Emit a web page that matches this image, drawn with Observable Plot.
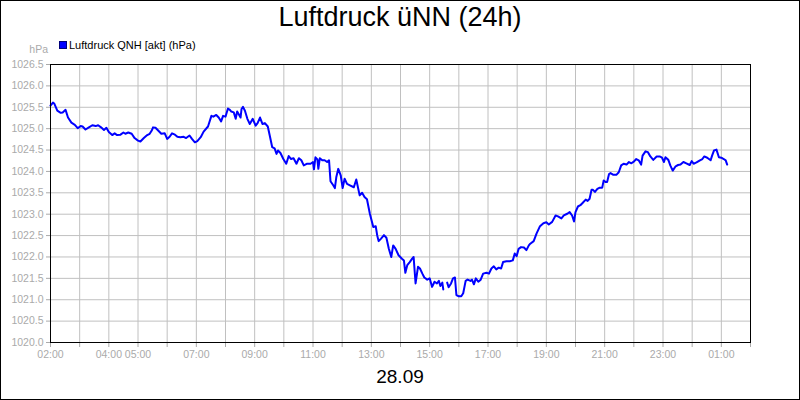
<!DOCTYPE html>
<html>
<head>
<meta charset="utf-8">
<script src="https://cdn.jsdelivr.net/npm/d3@7"></script>
<script src="https://cdn.jsdelivr.net/npm/@observablehq/plot@0.6"></script>
<style>
  html, body { margin: 0; padding: 0; background: #fff; }
  #wrap { position: relative; width: 800px; height: 400px; background: #fff; overflow: hidden;
          font-family: "Liberation Sans", Arial, sans-serif; }
  #border { position: absolute; left: 0; top: 0; width: 800px; height: 400px; box-sizing: border-box;
            border: 1px solid #000; pointer-events: none; z-index: 10; }
  #title { position: absolute; left: 0; width: 800px; top: 4px; text-align: center;
           font-size: 27px; line-height: 27px; color: #000; white-space: nowrap; }
  #legend { position: absolute; left: 59px; top: 40px; font-size: 11px; line-height: 11px; color: #000; white-space: nowrap; }
  #legend .sw { position: absolute; left: 0; top: 1px; width: 8px; height: 8px; box-sizing: border-box;
                background: #0000ff; border: 1px solid #00007a; }
  #legend .tx { position: absolute; left: 10px; top: 0; }
  #unit { position: absolute; left: 0; width: 48px; top: 44px; text-align: right; font-size: 10.5px;
          line-height: 11px; color: #aaaaaa; }
  #chart { position: absolute; left: 0; top: 56px; }
  #date { position: absolute; left: 0; width: 800px; top: 367px; text-align: center; font-size: 19px;
          line-height: 19px; color: #000; }
</style>
</head>
<body>
<div id="wrap">
  <div id="title">Luftdruck üNN (24h)</div>
  <div id="legend"><span class="sw"></span><span class="tx">Luftdruck QNH [akt] (hPa)</span></div>
  <div id="unit">hPa</div>
  <div id="chart"></div>
  <div id="date">28.09</div>
  <div id="border"></div>
</div>
<script>
// ---- data ----
const times = [
  "02:00","02:05","02:08","02:14","02:21","02:25","02:31","02:36","02:43","02:50","02:56",
  "03:02","03:06","03:12","03:19","03:26","03:33","03:38","03:44","03:50","03:55",
  "04:00","04:07","04:12","04:17","04:24","04:30","04:34","04:40","04:47","04:53",
  "05:00","05:05","05:12","05:19","05:24","05:28","05:31","05:36","05:42","05:48","05:55",
  "06:00","06:05","06:10","06:16","06:21","06:27","06:34","06:39","06:46","06:51","06:57",
  "07:02","07:09","07:15","07:24","07:31","07:35","07:41","07:46","07:51","07:55",
  "08:00","08:05","08:09","08:12","08:17","08:21","08:24","08:27","08:31","08:33","08:36","08:40","08:45","08:50","08:56",
  "09:02","09:06","09:11","09:16","09:21","09:27","09:31","09:36","09:41","09:45","09:48","09:53","09:59",
  "10:05","10:10","10:15","10:20","10:26","10:31","10:36","10:41","10:48","10:55",
  "11:00","11:02","11:05","11:09","11:11","11:14","11:19","11:24","11:29","11:33","11:36","11:42","11:45","11:48","11:52","11:57",
  "12:01","12:05","12:10","12:17","12:24","12:29","12:36","12:41","12:46","12:51","12:57",
  "13:04","13:09","13:12","13:15","13:20","13:26","13:31","13:36","13:41","13:45","13:50","13:56",
  "14:03","14:07","14:10","14:14","14:19","14:24","14:27","14:31","14:36","14:40","14:45","14:49","14:55",
  "15:00","15:05","15:10","15:15","15:19","15:22","15:26","15:28","15:32","15:36","15:39","15:44","15:48","15:52","15:55",
  "16:00","16:05","16:09","16:14","16:18","16:24","16:27","16:31","16:35","16:40","16:45","16:50","16:57",
  "17:02","17:07","17:12","17:17","17:22","17:27","17:31","17:38","17:45","17:51","17:55","17:59",
  "18:03","18:08","18:14","18:19","18:24","18:27","18:34","18:40","18:47","18:54",
  "19:00","19:05","19:12","19:19","19:24","19:31","19:36","19:43","19:48","19:53","19:57",
  "20:00","20:05","20:10","20:16","20:21","20:25","20:29","20:33","20:36","20:40","20:45","20:50","20:55","20:58",
  "21:02","21:05","21:09","21:12","21:18","21:24","21:29","21:34","21:39","21:45","21:50","21:55",
  "22:00","22:05","22:10","22:15","22:18","22:24","22:29","22:34","22:40","22:47","22:53","22:58",
  "23:02","23:05","23:11","23:15","23:20","23:26","23:31","23:36","23:42","23:48","23:55","23:59",
  "00:03","00:09","00:16","00:21","00:25","00:31","00:38","00:41","00:45","00:50","00:55",
  "01:00","01:05","01:09","01:12"
];
const qnh = [
  1025.54,1025.61,1025.58,1025.42,1025.37,1025.38,1025.44,1025.26,1025.14,1025.09,1025.01,
  1025.06,1025.05,1024.98,1025.03,1025.08,1025.06,1025.08,1025.03,1024.97,1025.02,
  1024.92,1024.85,1024.89,1024.85,1024.86,1024.91,1024.88,1024.91,1024.88,1024.78,
  1024.72,1024.70,1024.78,1024.85,1024.88,1024.95,1025.03,1025.02,1024.95,1024.88,1024.89,
  1024.76,1024.81,1024.89,1024.86,1024.81,1024.80,1024.81,1024.78,1024.84,1024.76,1024.68,
  1024.71,1024.80,1024.93,1025.05,1025.30,1025.28,1025.32,1025.26,1025.17,1025.30,
  1025.28,1025.47,1025.44,1025.40,1025.38,1025.23,1025.40,1025.34,1025.26,1025.46,1025.51,1025.42,1025.23,1025.11,1025.23,
  1025.07,1025.13,1025.26,1025.11,1025.13,1025.05,1024.84,1024.57,1024.54,1024.41,1024.49,1024.43,1024.29,
  1024.18,1024.36,1024.29,1024.31,1024.18,1024.31,1024.26,1024.14,1024.18,1024.18,
  1024.22,1024.05,1024.33,1024.28,1024.06,1024.31,1024.26,1024.26,1024.22,1024.26,1023.77,1023.67,1023.61,1023.87,1024.06,1023.91,
  1023.61,1023.83,1023.71,1023.67,1023.63,1023.81,1023.44,1023.50,1023.40,1023.35,1023.01,
  1022.70,1022.72,1022.51,1022.37,1022.43,1022.51,1022.45,1022.19,1022.00,1022.27,1022.19,1022.04,
  1021.96,1021.92,1021.63,1021.81,1021.88,1021.96,1022.00,1021.38,1021.77,1021.73,1021.61,1021.52,1021.47,
  1021.50,1021.30,1021.42,1021.38,1021.44,1021.32,1021.40,1021.24,null,1021.40,1021.29,1021.38,1021.50,1021.52,1021.11,
  1021.08,1021.08,1021.15,1021.44,1021.47,1021.44,1021.47,1021.36,1021.50,1021.42,1021.47,1021.61,1021.63,
  1021.61,1021.73,1021.78,1021.71,1021.75,1021.73,1021.88,1021.90,1021.90,1021.92,1022.08,1022.02,
  1022.19,1022.23,1022.22,1022.16,1022.27,1022.31,1022.37,1022.55,1022.72,1022.79,
  1022.81,1022.76,1022.82,1022.97,1022.95,1022.90,1022.97,1023.01,1023.05,1022.97,1022.83,
  1023.05,1023.18,1023.21,1023.28,1023.34,1023.31,1023.36,1023.57,1023.57,1023.52,1023.59,1023.62,1023.62,1023.79,
  1023.75,1023.75,1023.94,1023.96,1023.92,1023.92,1023.98,1024.14,1024.18,1024.16,1024.22,1024.19,
  1024.23,1024.29,1024.26,1024.16,1024.37,1024.47,1024.45,1024.35,1024.27,1024.35,1024.35,1024.32,
  1024.22,1024.33,1024.27,1024.14,1024.02,1024.12,1024.15,1024.16,1024.22,1024.19,1024.15,1024.24,
  1024.18,1024.21,1024.26,1024.29,1024.35,1024.32,1024.26,1024.37,1024.49,1024.51,1024.33,
  1024.32,1024.29,1024.26,1024.16
];
const xTickLabels = ["02:00","","04:00","05:00","","07:00","","09:00","","11:00","","13:00","",
  "15:00","","17:00","","19:00","","21:00","","23:00","","01:00",""];
const yTicks = [1020.0,1020.5,1021.0,1021.5,1022.0,1022.5,1023.0,1023.5,1024.0,1024.5,1025.0,1025.5,1026.0,1026.5];

// ---- build ----
const day0 = Date.UTC(2024, 8, 27, 0, 0);
const H = 3600000;
const t0 = day0 + 2 * H;
function toDate(s) {
  const [h, m] = s.split(":").map(Number);
  let mins = h * 60 + m;
  if (h < 2) mins += 1440;
  return new Date(day0 + mins * 60000);
}
const data = times.map((t, i) => ({ time: toDate(t), value: qnh[i] }));
const hourTicks = xTickLabels.map((_, i) => new Date(t0 + i * H));
const grey = "#aaaaaa";

const chart = Plot.plot({
  width: 800,
  height: 310,
  marginTop: 8,
  marginLeft: 50,
  marginRight: 50,
  marginBottom: 24,
  x: { type: "utc", domain: [new Date(t0), new Date(t0 + 24 * H)] },
  y: { domain: [1020, 1026.5] },
  style: { fontFamily: "'Liberation Sans', Arial, sans-serif", fontSize: "10.5px", background: "white", overflow: "visible" },
  marks: [
    Plot.gridX(hourTicks, { stroke: "#c0c0c0", strokeOpacity: 1, strokeWidth: 1 }),
    Plot.gridY(yTicks, { stroke: "#c0c0c0", strokeOpacity: 1, strokeWidth: 1 }),
    Plot.axisX(hourTicks, {
      tickSize: 5, tickPadding: 3, color: grey, label: null,
      tickFormat: d => xTickLabels[Math.round((d - t0) / H)]
    }),
    Plot.axisY(yTicks, {
      tickSize: 4, tickPadding: 3, color: grey, label: null,
      tickFormat: d => d.toFixed(1)
    }),
    Plot.line(data, { x: "time", y: "value", stroke: "#0000ff", strokeWidth: 2 }),
    Plot.frame({ stroke: "#000", strokeWidth: 1 })
  ]
});
document.getElementById("chart").appendChild(chart);
</script>
</body>
</html>
